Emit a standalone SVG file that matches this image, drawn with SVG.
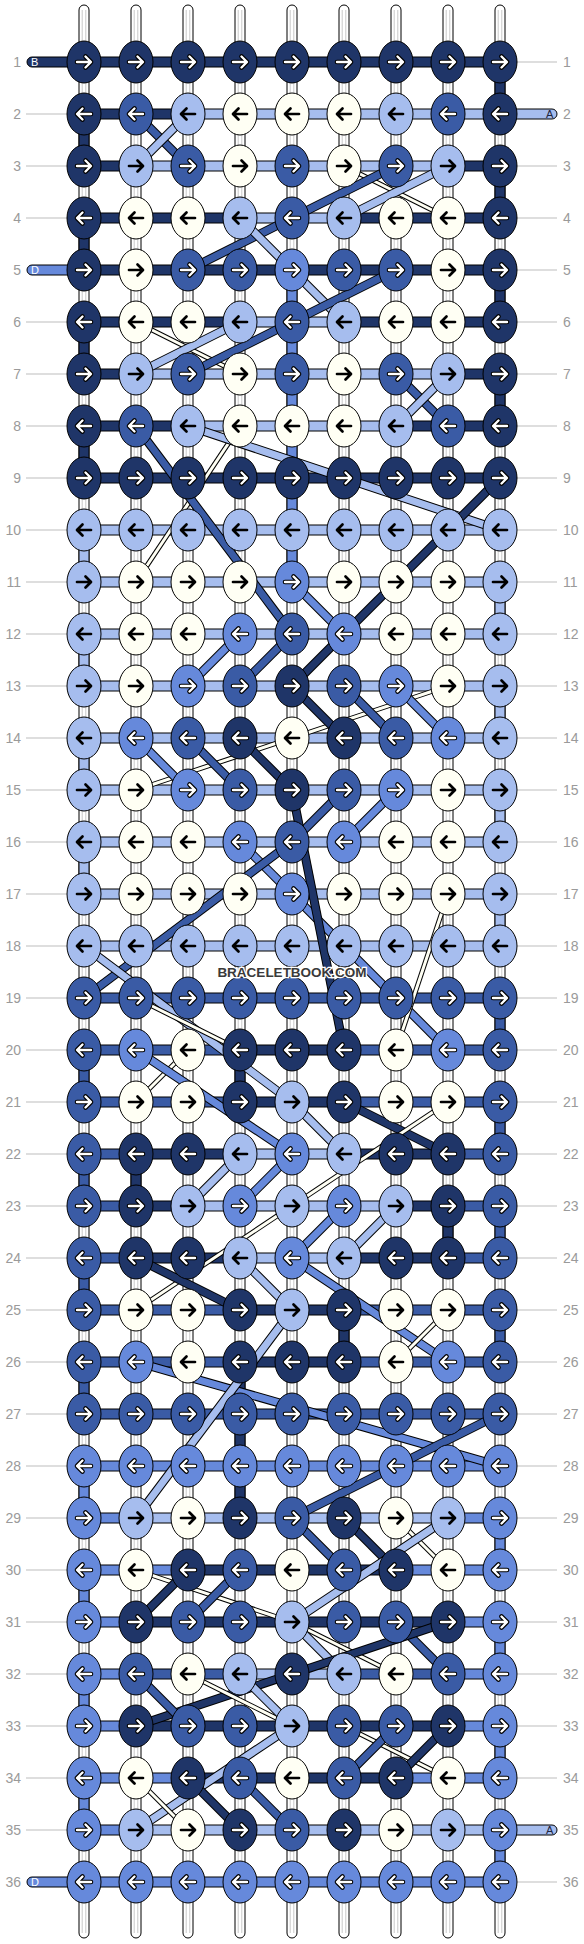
<svg xmlns="http://www.w3.org/2000/svg" xmlns:xlink="http://www.w3.org/1999/xlink" width="584" height="1944" viewBox="0 0 584 1944">
<style>
.lbl{font-family:"Liberation Sans",Arial,sans-serif;font-size:14px;fill:#9a9a9a}
.gl{stroke:#bdbdbd;stroke-width:1;fill:none}
.st{fill:#fff;stroke:#000;stroke-width:1}
.sg{stroke:#c8c8c8;stroke-width:1;fill:none}
.b{stroke:#000;stroke-width:1}
.N{fill:#1f3568}.M{fill:#3a5ba5}.C{fill:#6689db}.L{fill:#a6bdee}.W{fill:#fffff4}
.o{stroke:#000;stroke-width:9;fill:none}
.ow{stroke:#000;stroke-width:5;fill:none}
.fN{stroke:#1f3568;stroke-width:7;fill:none}
.fM{stroke:#3a5ba5;stroke-width:7;fill:none}
.fC{stroke:#6689db;stroke-width:7;fill:none}
.fL{stroke:#a6bdee;stroke-width:7;fill:none}
.fW{stroke:#fffff4;stroke-width:3;fill:none}
.sl{font-family:"Liberation Sans",Arial,sans-serif;font-size:11px}
</style>
<defs>
<ellipse id="e" rx="17" ry="21" stroke="#000" stroke-width="1"/>
<path id="a" d="M-7,0H6.5M1.5,-5.5L7,0L1.5,5.5" fill="none" stroke-linecap="round" stroke-linejoin="round"/>
<g id="Rw"><use href="#a" stroke="#000" stroke-width="4.6"/><use href="#a" stroke="#fff" stroke-width="2.4"/></g>
<g id="Lw"><use href="#Rw" transform="scale(-1,1)"/></g>
<g id="Rb"><use href="#a" stroke="#000" stroke-width="2.7"/></g>
<g id="Lb"><use href="#Rb" transform="scale(-1,1)"/></g>
<g id="NR"><use href="#e" fill="#1f3568"/><use href="#Rw"/></g>
<g id="NL"><use href="#e" fill="#1f3568"/><use href="#Lw"/></g>
<g id="MR"><use href="#e" fill="#3a5ba5"/><use href="#Rw"/></g>
<g id="ML"><use href="#e" fill="#3a5ba5"/><use href="#Lw"/></g>
<g id="CR"><use href="#e" fill="#6689db"/><use href="#Rw"/></g>
<g id="CL"><use href="#e" fill="#6689db"/><use href="#Lw"/></g>
<g id="LR"><use href="#e" fill="#a6bdee"/><use href="#Rb"/></g>
<g id="LL"><use href="#e" fill="#a6bdee"/><use href="#Lb"/></g>
<g id="WR"><use href="#e" fill="#fffff4"/><use href="#Rb"/></g>
<g id="WL"><use href="#e" fill="#fffff4"/><use href="#Lb"/></g>
</defs>
<rect width="584" height="1944" fill="#fff"/>
<g id="labels">
<path class="gl" d="M26,114H70M26,166H70M26,218H70M26,322H70M26,374H70M26,426H70M26,478H70M26,530H70M26,582H70M26,634H70M26,686H70M26,738H70M26,790H70M26,842H70M26,894H70M26,946H70M26,998H70M26,1050H70M26,1102H70M26,1154H70M26,1206H70M26,1258H70M26,1310H70M26,1362H70M26,1414H70M26,1466H70M26,1518H70M26,1570H70M26,1622H70M26,1674H70M26,1726H70M26,1778H70M26,1830H70"/>
<path class="gl" d="M514,62H557M514,166H557M514,218H557M514,270H557M514,322H557M514,374H557M514,426H557M514,478H557M514,530H557M514,582H557M514,634H557M514,686H557M514,738H557M514,790H557M514,842H557M514,894H557M514,946H557M514,998H557M514,1050H557M514,1102H557M514,1154H557M514,1206H557M514,1258H557M514,1310H557M514,1362H557M514,1414H557M514,1466H557M514,1518H557M514,1570H557M514,1622H557M514,1674H557M514,1726H557M514,1778H557M514,1882H557"/>
<g class="lbl" text-anchor="end">
<text x="21" y="67">1</text><text x="21" y="119">2</text><text x="21" y="171">3</text><text x="21" y="223">4</text><text x="21" y="275">5</text><text x="21" y="327">6</text><text x="21" y="379">7</text><text x="21" y="431">8</text><text x="21" y="483">9</text><text x="21" y="535">10</text><text x="21" y="587">11</text><text x="21" y="639">12</text><text x="21" y="691">13</text><text x="21" y="743">14</text><text x="21" y="795">15</text><text x="21" y="847">16</text><text x="21" y="899">17</text><text x="21" y="951">18</text><text x="21" y="1003">19</text><text x="21" y="1055">20</text><text x="21" y="1107">21</text><text x="21" y="1159">22</text><text x="21" y="1211">23</text><text x="21" y="1263">24</text><text x="21" y="1315">25</text><text x="21" y="1367">26</text><text x="21" y="1419">27</text><text x="21" y="1471">28</text><text x="21" y="1523">29</text><text x="21" y="1575">30</text><text x="21" y="1627">31</text><text x="21" y="1679">32</text><text x="21" y="1731">33</text><text x="21" y="1783">34</text><text x="21" y="1835">35</text><text x="21" y="1887">36</text>
</g>
<g class="lbl">
<text x="563" y="67">1</text><text x="563" y="119">2</text><text x="563" y="171">3</text><text x="563" y="223">4</text><text x="563" y="275">5</text><text x="563" y="327">6</text><text x="563" y="379">7</text><text x="563" y="431">8</text><text x="563" y="483">9</text><text x="563" y="535">10</text><text x="563" y="587">11</text><text x="563" y="639">12</text><text x="563" y="691">13</text><text x="563" y="743">14</text><text x="563" y="795">15</text><text x="563" y="847">16</text><text x="563" y="899">17</text><text x="563" y="951">18</text><text x="563" y="1003">19</text><text x="563" y="1055">20</text><text x="563" y="1107">21</text><text x="563" y="1159">22</text><text x="563" y="1211">23</text><text x="563" y="1263">24</text><text x="563" y="1315">25</text><text x="563" y="1367">26</text><text x="563" y="1419">27</text><text x="563" y="1471">28</text><text x="563" y="1523">29</text><text x="563" y="1575">30</text><text x="563" y="1627">31</text><text x="563" y="1679">32</text><text x="563" y="1731">33</text><text x="563" y="1783">34</text><text x="563" y="1835">35</text><text x="563" y="1887">36</text>
</g>
</g>
<g id="connectors">
<g id="strands">
<rect class="st" x="79" y="5" width="10" height="1933" rx="5"/><rect class="st" x="131" y="5" width="10" height="1933" rx="5"/><rect class="st" x="183" y="5" width="10" height="1933" rx="5"/><rect class="st" x="235" y="5" width="10" height="1933" rx="5"/><rect class="st" x="287" y="5" width="10" height="1933" rx="5"/><rect class="st" x="339" y="5" width="10" height="1933" rx="5"/><rect class="st" x="391" y="5" width="10" height="1933" rx="5"/><rect class="st" x="443" y="5" width="10" height="1933" rx="5"/><rect class="st" x="495" y="5" width="10" height="1933" rx="5"/>
<path class="sg" d="M82.2,10V1933M85.8,10V1933M134.2,10V1933M137.8,10V1933M186.2,10V1933M189.8,10V1933M238.2,10V1933M241.8,10V1933M290.2,10V1933M293.8,10V1933M342.2,10V1933M345.8,10V1933M394.2,10V1933M397.8,10V1933M446.2,10V1933M449.8,10V1933M498.2,10V1933M501.8,10V1933"/>
</g>
<g id="vertical">
<rect class="b N" x="79" y="130" width="10" height="20"/><rect class="b N" x="79" y="234" width="10" height="20"/><rect class="b N" x="79" y="338" width="10" height="20"/><rect class="b N" x="79" y="442" width="10" height="20"/>
<rect class="b L" x="79" y="546" width="10" height="20"/><rect class="b L" x="79" y="650" width="10" height="20"/><rect class="b L" x="79" y="754" width="10" height="20"/><rect class="b L" x="79" y="858" width="10" height="20"/>
<rect class="b M" x="79" y="1066" width="10" height="20"/><rect class="b M" x="79" y="1170" width="10" height="20"/><rect class="b M" x="79" y="1274" width="10" height="20"/><rect class="b M" x="79" y="1378" width="10" height="20"/>
<rect class="b C" x="79" y="1482" width="10" height="20"/><rect class="b C" x="79" y="1586" width="10" height="20"/><rect class="b C" x="79" y="1690" width="10" height="20"/><rect class="b C" x="79" y="1794" width="10" height="20"/>
<rect class="b N" x="495" y="78" width="10" height="20"/><rect class="b N" x="495" y="182" width="10" height="20"/><rect class="b N" x="495" y="286" width="10" height="20"/><rect class="b N" x="495" y="390" width="10" height="20"/>
<rect class="b L" x="495" y="598" width="10" height="20"/><rect class="b L" x="495" y="702" width="10" height="20"/><rect class="b L" x="495" y="806" width="10" height="20"/><rect class="b L" x="495" y="910" width="10" height="20"/>
<rect class="b M" x="495" y="1014" width="10" height="20"/><rect class="b M" x="495" y="1118" width="10" height="20"/><rect class="b M" x="495" y="1222" width="10" height="20"/><rect class="b M" x="495" y="1326" width="10" height="20"/>
<rect class="b C" x="495" y="1534" width="10" height="20"/><rect class="b C" x="495" y="1638" width="10" height="20"/><rect class="b C" x="495" y="1742" width="10" height="20"/><rect class="b C" x="495" y="1846" width="10" height="20"/>
<rect class="b C" x="287" y="286" width="10" height="280"/>
<rect class="b N" x="235" y="1066" width="10" height="20"/><rect class="b N" x="235" y="1378" width="10" height="124"/>
<rect class="b N" x="131" y="1170" width="10" height="20"/><rect class="b N" x="443" y="1222" width="10" height="20"/><rect class="b N" x="339" y="1326" width="10" height="20"/>
</g>
<g id="rows">
<path class="b N" d="M84,57H32a5,5 0 0 0 0,10H84Z"/>
<path class="b C" d="M84,265H32a5,5 0 0 0 0,10H84Z"/>
<path class="b C" d="M84,1877H32a5,5 0 0 0 0,10H84Z"/>
<path class="b L" d="M500,109H552a5,5 0 0 1 0,10H500Z"/>
<path class="b L" d="M500,1825H552a5,5 0 0 1 0,10H500Z"/>
<rect class="b N" x="84" y="57" width="416" height="10"/>
<rect class="b N" x="84" y="109" width="104" height="10"/><rect class="b L" x="188" y="109" width="312" height="10"/>
<rect class="b N" x="84" y="161" width="52" height="10"/><rect class="b L" x="136" y="161" width="312" height="10"/><rect class="b N" x="448" y="161" width="52" height="10"/>
<rect class="b N" x="84" y="213" width="156" height="10"/><rect class="b L" x="240" y="213" width="104" height="10"/><rect class="b N" x="344" y="213" width="156" height="10"/>
<rect class="b N" x="84" y="265" width="416" height="10"/>
<rect class="b N" x="84" y="317" width="156" height="10"/><rect class="b L" x="240" y="317" width="104" height="10"/><rect class="b N" x="344" y="317" width="156" height="10"/>
<rect class="b N" x="84" y="369" width="52" height="10"/><rect class="b L" x="136" y="369" width="312" height="10"/><rect class="b N" x="448" y="369" width="52" height="10"/>
<rect class="b N" x="84" y="421" width="104" height="10"/><rect class="b L" x="188" y="421" width="208" height="10"/><rect class="b N" x="396" y="421" width="104" height="10"/>
<rect class="b N" x="84" y="473" width="416" height="10"/>
<rect class="b L" x="84" y="525" width="416" height="10"/><rect class="b L" x="84" y="577" width="416" height="10"/><rect class="b L" x="84" y="629" width="416" height="10"/><rect class="b L" x="84" y="681" width="416" height="10"/><rect class="b L" x="84" y="733" width="416" height="10"/><rect class="b L" x="84" y="785" width="416" height="10"/><rect class="b L" x="84" y="837" width="416" height="10"/><rect class="b L" x="84" y="889" width="416" height="10"/><rect class="b L" x="84" y="941" width="416" height="10"/>
<rect class="b M" x="84" y="993" width="416" height="10"/>
<rect class="b M" x="84" y="1045" width="156" height="10"/><rect class="b N" x="240" y="1045" width="104" height="10"/><rect class="b M" x="344" y="1045" width="156" height="10"/>
<rect class="b M" x="84" y="1097" width="156" height="10"/><rect class="b N" x="240" y="1097" width="104" height="10"/><rect class="b M" x="344" y="1097" width="156" height="10"/>
<rect class="b M" x="84" y="1149" width="52" height="10"/><rect class="b N" x="136" y="1149" width="104" height="10"/><rect class="b L" x="240" y="1149" width="104" height="10"/><rect class="b N" x="344" y="1149" width="104" height="10"/><rect class="b M" x="448" y="1149" width="52" height="10"/>
<rect class="b M" x="84" y="1201" width="52" height="10"/><rect class="b N" x="136" y="1201" width="52" height="10"/><rect class="b L" x="188" y="1201" width="208" height="10"/><rect class="b N" x="396" y="1201" width="52" height="10"/><rect class="b M" x="448" y="1201" width="52" height="10"/>
<rect class="b M" x="84" y="1253" width="52" height="10"/><rect class="b N" x="136" y="1253" width="104" height="10"/><rect class="b L" x="240" y="1253" width="104" height="10"/><rect class="b N" x="344" y="1253" width="104" height="10"/><rect class="b M" x="448" y="1253" width="52" height="10"/>
<rect class="b M" x="84" y="1305" width="156" height="10"/><rect class="b N" x="240" y="1305" width="104" height="10"/><rect class="b M" x="344" y="1305" width="156" height="10"/>
<rect class="b M" x="84" y="1357" width="156" height="10"/><rect class="b N" x="240" y="1357" width="104" height="10"/><rect class="b M" x="344" y="1357" width="156" height="10"/>
<rect class="b M" x="84" y="1409" width="416" height="10"/>
<rect class="b C" x="84" y="1461" width="416" height="10"/>
<rect class="b C" x="84" y="1513" width="52" height="10"/><rect class="b L" x="136" y="1513" width="312" height="10"/><rect class="b C" x="448" y="1513" width="52" height="10"/>
<rect class="b C" x="84" y="1565" width="104" height="10"/><rect class="b N" x="188" y="1565" width="208" height="10"/><rect class="b C" x="396" y="1565" width="104" height="10"/>
<rect class="b C" x="84" y="1617" width="52" height="10"/><rect class="b N" x="136" y="1617" width="312" height="10"/><rect class="b C" x="448" y="1617" width="52" height="10"/>
<rect class="b C" x="84" y="1669" width="52" height="10"/><rect class="b M" x="136" y="1669" width="104" height="10"/><rect class="b L" x="240" y="1669" width="104" height="10"/><rect class="b M" x="344" y="1669" width="104" height="10"/><rect class="b C" x="448" y="1669" width="52" height="10"/>
<rect class="b C" x="84" y="1721" width="52" height="10"/><rect class="b N" x="136" y="1721" width="312" height="10"/><rect class="b C" x="448" y="1721" width="52" height="10"/>
<rect class="b C" x="84" y="1773" width="104" height="10"/><rect class="b N" x="188" y="1773" width="208" height="10"/><rect class="b C" x="396" y="1773" width="104" height="10"/>
<rect class="b C" x="84" y="1825" width="52" height="10"/><rect class="b L" x="136" y="1825" width="364" height="10"/>
<rect class="b C" x="84" y="1877" width="416" height="10"/>
<text class="sl" x="31" y="66" fill="#fff">B</text>
<text class="sl" x="31" y="274" fill="#fff">D</text>
<text class="sl" x="31" y="1886" fill="#fff">D</text>
<text class="sl" x="546" y="118" fill="#1f2540">A</text>
<text class="sl" x="546" y="1834" fill="#1f2540">A</text>
</g>
<g id="diagonals">
<path class="o" d="M136,114L188,166"/><path class="fM" d="M136,114L188,166"/>
<path class="o" d="M188,114L136,166"/><path class="fL" d="M188,114L136,166"/>
<path class="ow" d="M344,166L448,218"/><path class="fW" d="M344,166L448,218"/>
<path class="o" d="M396,166L188,270"/><path class="fM" d="M396,166L188,270"/>
<path class="o" d="M448,166L344,218"/><path class="fL" d="M448,166L344,218"/>
<path class="o" d="M240,218L292,270"/><path class="fL" d="M240,218L292,270"/>
<path class="o" d="M292,270L344,322"/><path class="fL" d="M292,270L344,322"/>
<path class="o" d="M396,270L292,322"/><path class="fM" d="M396,270L292,322"/>
<path class="ow" d="M136,322L240,374"/><path class="fW" d="M136,322L240,374"/>
<path class="o" d="M240,322L136,374"/><path class="fL" d="M240,322L136,374"/>
<path class="o" d="M292,322L188,374"/><path class="fM" d="M292,322L188,374"/>
<path class="o" d="M396,374L448,426"/><path class="fM" d="M396,374L448,426"/>
<path class="o" d="M448,374L396,426"/><path class="fL" d="M448,374L396,426"/>
<path class="ow" d="M240,426L136,582"/><path class="fW" d="M240,426L136,582"/>
<path class="o" d="M136,426L292,634"/><path class="fM" d="M136,426L292,634"/>
<path class="o" d="M188,426L500,530"/><path class="fL" d="M188,426L500,530"/>
<path class="o" d="M500,478L292,686"/><path class="fN" d="M500,478L292,686"/>
<path class="o" d="M292,582L344,634"/><path class="fC" d="M292,582L344,634"/>
<path class="o" d="M240,634L188,686"/><path class="fC" d="M240,634L188,686"/>
<path class="o" d="M292,634L240,686"/><path class="fM" d="M292,634L240,686"/>
<path class="ow" d="M448,686L136,790"/><path class="fW" d="M448,686L136,790"/>
<path class="o" d="M292,686L344,738"/><path class="fN" d="M292,686L344,738"/>
<path class="o" d="M344,686L396,738"/><path class="fM" d="M344,686L396,738"/>
<path class="o" d="M396,686L448,738"/><path class="fC" d="M396,686L448,738"/>
<path class="o" d="M136,738L188,790"/><path class="fC" d="M136,738L188,790"/>
<path class="o" d="M188,738L240,790"/><path class="fM" d="M188,738L240,790"/>
<path class="o" d="M240,738L292,790"/><path class="fN" d="M240,738L292,790"/>
<path class="o" d="M344,790L292,842"/><path class="fM" d="M344,790L292,842"/>
<path class="o" d="M396,790L344,842"/><path class="fC" d="M396,790L344,842"/>
<path class="o" d="M240,842L292,894"/><path class="fC" d="M240,842L292,894"/>
<path class="o" d="M292,842L84,998"/><path class="fM" d="M292,842L84,998"/>
<path class="o" d="M292,894L448,1050"/><path class="fC" d="M292,894L448,1050"/>
<path class="o" d="M292,790L344,1050"/><path class="fN" d="M292,790L344,1050"/>
<path class="ow" d="M448,894L396,1050"/><path class="fW" d="M448,894L396,1050"/>
<path class="o" d="M84,946L292,1102"/><path class="fL" d="M84,946L292,1102"/>
<path class="ow" d="M136,998L240,1050"/><path class="fW" d="M136,998L240,1050"/>
<path class="ow" d="M188,1050L136,1102"/><path class="fW" d="M188,1050L136,1102"/>
<path class="o" d="M136,1050L292,1154"/><path class="fC" d="M136,1050L292,1154"/>
<path class="o" d="M292,1102L344,1154"/><path class="fL" d="M292,1102L344,1154"/>
<path class="o" d="M344,1102L448,1154"/><path class="fN" d="M344,1102L448,1154"/>
<path class="ow" d="M448,1102L136,1310"/><path class="fW" d="M448,1102L136,1310"/>
<path class="o" d="M240,1154L188,1206"/><path class="fL" d="M240,1154L188,1206"/>
<path class="o" d="M292,1154L240,1206"/><path class="fC" d="M292,1154L240,1206"/>
<path class="o" d="M344,1206L292,1258"/><path class="fC" d="M344,1206L292,1258"/>
<path class="o" d="M396,1206L344,1258"/><path class="fL" d="M396,1206L344,1258"/>
<path class="o" d="M136,1258L240,1310"/><path class="fN" d="M136,1258L240,1310"/>
<path class="o" d="M240,1258L292,1310"/><path class="fL" d="M240,1258L292,1310"/>
<path class="o" d="M292,1258L448,1362"/><path class="fC" d="M292,1258L448,1362"/>
<path class="ow" d="M448,1310L396,1362"/><path class="fW" d="M448,1310L396,1362"/>
<path class="o" d="M136,1362L500,1466"/><path class="fC" d="M136,1362L500,1466"/>
<path class="o" d="M292,1310L136,1518"/><path class="fL" d="M292,1310L136,1518"/>
<path class="o" d="M500,1414L292,1518"/><path class="fM" d="M500,1414L292,1518"/>
<path class="o" d="M292,1518L344,1570"/><path class="fM" d="M292,1518L344,1570"/>
<path class="o" d="M344,1518L396,1570"/><path class="fN" d="M344,1518L396,1570"/>
<path class="ow" d="M396,1518L448,1570"/><path class="fW" d="M396,1518L448,1570"/>
<path class="o" d="M448,1518L292,1622"/><path class="fL" d="M448,1518L292,1622"/>
<path class="ow" d="M136,1570L292,1622"/><path class="fW" d="M136,1570L292,1622"/>
<path class="o" d="M188,1570L136,1622"/><path class="fN" d="M188,1570L136,1622"/>
<path class="o" d="M240,1570L188,1622"/><path class="fM" d="M240,1570L188,1622"/>
<path class="ow" d="M292,1622L396,1674"/><path class="fW" d="M292,1622L396,1674"/>
<path class="o" d="M292,1622L344,1674"/><path class="fL" d="M292,1622L344,1674"/>
<path class="o" d="M396,1622L448,1674"/><path class="fM" d="M396,1622L448,1674"/>
<path class="o" d="M448,1622L136,1726"/><path class="fN" d="M448,1622L136,1726"/>
<path class="ow" d="M188,1674L292,1726"/><path class="fW" d="M188,1674L292,1726"/>
<path class="o" d="M136,1674L188,1726"/><path class="fM" d="M136,1674L188,1726"/>
<path class="o" d="M240,1674L292,1726"/><path class="fL" d="M240,1674L292,1726"/>
<path class="ow" d="M344,1726L448,1778"/><path class="fW" d="M344,1726L448,1778"/>
<path class="o" d="M396,1726L344,1778"/><path class="fM" d="M396,1726L344,1778"/>
<path class="o" d="M448,1726L396,1778"/><path class="fN" d="M448,1726L396,1778"/>
<path class="o" d="M292,1726L136,1830"/><path class="fL" d="M292,1726L136,1830"/>
<path class="ow" d="M136,1778L188,1830"/><path class="fW" d="M136,1778L188,1830"/>
<path class="o" d="M188,1778L240,1830"/><path class="fN" d="M188,1778L240,1830"/>
<path class="o" d="M240,1778L292,1830"/><path class="fM" d="M240,1778L292,1830"/>
</g>
</g>
<g id="knots">
<g id="n1-1"><use href="#NR" x="84" y="62"/></g><g id="n1-2"><use href="#NR" x="136" y="62"/></g><g id="n1-3"><use href="#NR" x="188" y="62"/></g><g id="n1-4"><use href="#NR" x="240" y="62"/></g><g id="n1-5"><use href="#NR" x="292" y="62"/></g><g id="n1-6"><use href="#NR" x="344" y="62"/></g><g id="n1-7"><use href="#NR" x="396" y="62"/></g><g id="n1-8"><use href="#NR" x="448" y="62"/></g><g id="n1-9"><use href="#NR" x="500" y="62"/></g>
<g id="n2-1"><use href="#NL" x="84" y="114"/></g><g id="n2-2"><use href="#ML" x="136" y="114"/></g><g id="n2-3"><use href="#LL" x="188" y="114"/></g><g id="n2-4"><use href="#WL" x="240" y="114"/></g><g id="n2-5"><use href="#WL" x="292" y="114"/></g><g id="n2-6"><use href="#WL" x="344" y="114"/></g><g id="n2-7"><use href="#LL" x="396" y="114"/></g><g id="n2-8"><use href="#ML" x="448" y="114"/></g><g id="n2-9"><use href="#NL" x="500" y="114"/></g>
<g id="n3-1"><use href="#NR" x="84" y="166"/></g><g id="n3-2"><use href="#LR" x="136" y="166"/></g><g id="n3-3"><use href="#MR" x="188" y="166"/></g><g id="n3-4"><use href="#WR" x="240" y="166"/></g><g id="n3-5"><use href="#MR" x="292" y="166"/></g><g id="n3-6"><use href="#WR" x="344" y="166"/></g><g id="n3-7"><use href="#MR" x="396" y="166"/></g><g id="n3-8"><use href="#LR" x="448" y="166"/></g><g id="n3-9"><use href="#NR" x="500" y="166"/></g>
<g id="n4-1"><use href="#NL" x="84" y="218"/></g><g id="n4-2"><use href="#WL" x="136" y="218"/></g><g id="n4-3"><use href="#WL" x="188" y="218"/></g><g id="n4-4"><use href="#LL" x="240" y="218"/></g><g id="n4-5"><use href="#ML" x="292" y="218"/></g><g id="n4-6"><use href="#LL" x="344" y="218"/></g><g id="n4-7"><use href="#WL" x="396" y="218"/></g><g id="n4-8"><use href="#WL" x="448" y="218"/></g><g id="n4-9"><use href="#NL" x="500" y="218"/></g>
<g id="n5-1"><use href="#NR" x="84" y="270"/></g><g id="n5-2"><use href="#WR" x="136" y="270"/></g><g id="n5-3"><use href="#MR" x="188" y="270"/></g><g id="n5-4"><use href="#MR" x="240" y="270"/></g><g id="n5-5"><use href="#CR" x="292" y="270"/></g><g id="n5-6"><use href="#MR" x="344" y="270"/></g><g id="n5-7"><use href="#MR" x="396" y="270"/></g><g id="n5-8"><use href="#WR" x="448" y="270"/></g><g id="n5-9"><use href="#NR" x="500" y="270"/></g>
<g id="n6-1"><use href="#NL" x="84" y="322"/></g><g id="n6-2"><use href="#WL" x="136" y="322"/></g><g id="n6-3"><use href="#WL" x="188" y="322"/></g><g id="n6-4"><use href="#LL" x="240" y="322"/></g><g id="n6-5"><use href="#ML" x="292" y="322"/></g><g id="n6-6"><use href="#LL" x="344" y="322"/></g><g id="n6-7"><use href="#WL" x="396" y="322"/></g><g id="n6-8"><use href="#WL" x="448" y="322"/></g><g id="n6-9"><use href="#NL" x="500" y="322"/></g>
<g id="n7-1"><use href="#NR" x="84" y="374"/></g><g id="n7-2"><use href="#LR" x="136" y="374"/></g><g id="n7-3"><use href="#MR" x="188" y="374"/></g><g id="n7-4"><use href="#WR" x="240" y="374"/></g><g id="n7-5"><use href="#MR" x="292" y="374"/></g><g id="n7-6"><use href="#WR" x="344" y="374"/></g><g id="n7-7"><use href="#MR" x="396" y="374"/></g><g id="n7-8"><use href="#LR" x="448" y="374"/></g><g id="n7-9"><use href="#NR" x="500" y="374"/></g>
<g id="n8-1"><use href="#NL" x="84" y="426"/></g><g id="n8-2"><use href="#ML" x="136" y="426"/></g><g id="n8-3"><use href="#LL" x="188" y="426"/></g><g id="n8-4"><use href="#WL" x="240" y="426"/></g><g id="n8-5"><use href="#WL" x="292" y="426"/></g><g id="n8-6"><use href="#WL" x="344" y="426"/></g><g id="n8-7"><use href="#LL" x="396" y="426"/></g><g id="n8-8"><use href="#ML" x="448" y="426"/></g><g id="n8-9"><use href="#NL" x="500" y="426"/></g>
<g id="n9-1"><use href="#NR" x="84" y="478"/></g><g id="n9-2"><use href="#NR" x="136" y="478"/></g><g id="n9-3"><use href="#NR" x="188" y="478"/></g><g id="n9-4"><use href="#NR" x="240" y="478"/></g><g id="n9-5"><use href="#NR" x="292" y="478"/></g><g id="n9-6"><use href="#NR" x="344" y="478"/></g><g id="n9-7"><use href="#NR" x="396" y="478"/></g><g id="n9-8"><use href="#NR" x="448" y="478"/></g><g id="n9-9"><use href="#NR" x="500" y="478"/></g>
<g id="n10-1"><use href="#LL" x="84" y="530"/></g><g id="n10-2"><use href="#LL" x="136" y="530"/></g><g id="n10-3"><use href="#LL" x="188" y="530"/></g><g id="n10-4"><use href="#LL" x="240" y="530"/></g><g id="n10-5"><use href="#LL" x="292" y="530"/></g><g id="n10-6"><use href="#LL" x="344" y="530"/></g><g id="n10-7"><use href="#LL" x="396" y="530"/></g><g id="n10-8"><use href="#LL" x="448" y="530"/></g><g id="n10-9"><use href="#LL" x="500" y="530"/></g>
<g id="n11-1"><use href="#LR" x="84" y="582"/></g><g id="n11-2"><use href="#WR" x="136" y="582"/></g><g id="n11-3"><use href="#WR" x="188" y="582"/></g><g id="n11-4"><use href="#WR" x="240" y="582"/></g><g id="n11-5"><use href="#CR" x="292" y="582"/></g><g id="n11-6"><use href="#WR" x="344" y="582"/></g><g id="n11-7"><use href="#WR" x="396" y="582"/></g><g id="n11-8"><use href="#WR" x="448" y="582"/></g><g id="n11-9"><use href="#LR" x="500" y="582"/></g>
<g id="n12-1"><use href="#LL" x="84" y="634"/></g><g id="n12-2"><use href="#WL" x="136" y="634"/></g><g id="n12-3"><use href="#WL" x="188" y="634"/></g><g id="n12-4"><use href="#CL" x="240" y="634"/></g><g id="n12-5"><use href="#ML" x="292" y="634"/></g><g id="n12-6"><use href="#CL" x="344" y="634"/></g><g id="n12-7"><use href="#WL" x="396" y="634"/></g><g id="n12-8"><use href="#WL" x="448" y="634"/></g><g id="n12-9"><use href="#LL" x="500" y="634"/></g>
<g id="n13-1"><use href="#LR" x="84" y="686"/></g><g id="n13-2"><use href="#WR" x="136" y="686"/></g><g id="n13-3"><use href="#CR" x="188" y="686"/></g><g id="n13-4"><use href="#MR" x="240" y="686"/></g><g id="n13-5"><use href="#NR" x="292" y="686"/></g><g id="n13-6"><use href="#MR" x="344" y="686"/></g><g id="n13-7"><use href="#CR" x="396" y="686"/></g><g id="n13-8"><use href="#WR" x="448" y="686"/></g><g id="n13-9"><use href="#LR" x="500" y="686"/></g>
<g id="n14-1"><use href="#LL" x="84" y="738"/></g><g id="n14-2"><use href="#CL" x="136" y="738"/></g><g id="n14-3"><use href="#ML" x="188" y="738"/></g><g id="n14-4"><use href="#NL" x="240" y="738"/></g><g id="n14-5"><use href="#WL" x="292" y="738"/></g><g id="n14-6"><use href="#NL" x="344" y="738"/></g><g id="n14-7"><use href="#ML" x="396" y="738"/></g><g id="n14-8"><use href="#CL" x="448" y="738"/></g><g id="n14-9"><use href="#LL" x="500" y="738"/></g>
<g id="n15-1"><use href="#LR" x="84" y="790"/></g><g id="n15-2"><use href="#WR" x="136" y="790"/></g><g id="n15-3"><use href="#CR" x="188" y="790"/></g><g id="n15-4"><use href="#MR" x="240" y="790"/></g><g id="n15-5"><use href="#NR" x="292" y="790"/></g><g id="n15-6"><use href="#MR" x="344" y="790"/></g><g id="n15-7"><use href="#CR" x="396" y="790"/></g><g id="n15-8"><use href="#WR" x="448" y="790"/></g><g id="n15-9"><use href="#LR" x="500" y="790"/></g>
<g id="n16-1"><use href="#LL" x="84" y="842"/></g><g id="n16-2"><use href="#WL" x="136" y="842"/></g><g id="n16-3"><use href="#WL" x="188" y="842"/></g><g id="n16-4"><use href="#CL" x="240" y="842"/></g><g id="n16-5"><use href="#ML" x="292" y="842"/></g><g id="n16-6"><use href="#CL" x="344" y="842"/></g><g id="n16-7"><use href="#WL" x="396" y="842"/></g><g id="n16-8"><use href="#WL" x="448" y="842"/></g><g id="n16-9"><use href="#LL" x="500" y="842"/></g>
<g id="n17-1"><use href="#LR" x="84" y="894"/></g><g id="n17-2"><use href="#WR" x="136" y="894"/></g><g id="n17-3"><use href="#WR" x="188" y="894"/></g><g id="n17-4"><use href="#WR" x="240" y="894"/></g><g id="n17-5"><use href="#CR" x="292" y="894"/></g><g id="n17-6"><use href="#WR" x="344" y="894"/></g><g id="n17-7"><use href="#WR" x="396" y="894"/></g><g id="n17-8"><use href="#WR" x="448" y="894"/></g><g id="n17-9"><use href="#LR" x="500" y="894"/></g>
<g id="n18-1"><use href="#LL" x="84" y="946"/></g><g id="n18-2"><use href="#LL" x="136" y="946"/></g><g id="n18-3"><use href="#LL" x="188" y="946"/></g><g id="n18-4"><use href="#LL" x="240" y="946"/></g><g id="n18-5"><use href="#LL" x="292" y="946"/></g><g id="n18-6"><use href="#LL" x="344" y="946"/></g><g id="n18-7"><use href="#LL" x="396" y="946"/></g><g id="n18-8"><use href="#LL" x="448" y="946"/></g><g id="n18-9"><use href="#LL" x="500" y="946"/></g>
<g id="n19-1"><use href="#MR" x="84" y="998"/></g><g id="n19-2"><use href="#MR" x="136" y="998"/></g><g id="n19-3"><use href="#MR" x="188" y="998"/></g><g id="n19-4"><use href="#MR" x="240" y="998"/></g><g id="n19-5"><use href="#MR" x="292" y="998"/></g><g id="n19-6"><use href="#MR" x="344" y="998"/></g><g id="n19-7"><use href="#MR" x="396" y="998"/></g><g id="n19-8"><use href="#MR" x="448" y="998"/></g><g id="n19-9"><use href="#MR" x="500" y="998"/></g>
<g id="n20-1"><use href="#ML" x="84" y="1050"/></g><g id="n20-2"><use href="#CL" x="136" y="1050"/></g><g id="n20-3"><use href="#WL" x="188" y="1050"/></g><g id="n20-4"><use href="#NL" x="240" y="1050"/></g><g id="n20-5"><use href="#NL" x="292" y="1050"/></g><g id="n20-6"><use href="#NL" x="344" y="1050"/></g><g id="n20-7"><use href="#WL" x="396" y="1050"/></g><g id="n20-8"><use href="#CL" x="448" y="1050"/></g><g id="n20-9"><use href="#ML" x="500" y="1050"/></g>
<g id="n21-1"><use href="#MR" x="84" y="1102"/></g><g id="n21-2"><use href="#WR" x="136" y="1102"/></g><g id="n21-3"><use href="#WR" x="188" y="1102"/></g><g id="n21-4"><use href="#NR" x="240" y="1102"/></g><g id="n21-5"><use href="#LR" x="292" y="1102"/></g><g id="n21-6"><use href="#NR" x="344" y="1102"/></g><g id="n21-7"><use href="#WR" x="396" y="1102"/></g><g id="n21-8"><use href="#WR" x="448" y="1102"/></g><g id="n21-9"><use href="#MR" x="500" y="1102"/></g>
<g id="n22-1"><use href="#ML" x="84" y="1154"/></g><g id="n22-2"><use href="#NL" x="136" y="1154"/></g><g id="n22-3"><use href="#NL" x="188" y="1154"/></g><g id="n22-4"><use href="#LL" x="240" y="1154"/></g><g id="n22-5"><use href="#CL" x="292" y="1154"/></g><g id="n22-6"><use href="#LL" x="344" y="1154"/></g><g id="n22-7"><use href="#NL" x="396" y="1154"/></g><g id="n22-8"><use href="#NL" x="448" y="1154"/></g><g id="n22-9"><use href="#ML" x="500" y="1154"/></g>
<g id="n23-1"><use href="#MR" x="84" y="1206"/></g><g id="n23-2"><use href="#NR" x="136" y="1206"/></g><g id="n23-3"><use href="#LR" x="188" y="1206"/></g><g id="n23-4"><use href="#CR" x="240" y="1206"/></g><g id="n23-5"><use href="#LR" x="292" y="1206"/></g><g id="n23-6"><use href="#CR" x="344" y="1206"/></g><g id="n23-7"><use href="#LR" x="396" y="1206"/></g><g id="n23-8"><use href="#NR" x="448" y="1206"/></g><g id="n23-9"><use href="#MR" x="500" y="1206"/></g>
<g id="n24-1"><use href="#ML" x="84" y="1258"/></g><g id="n24-2"><use href="#NL" x="136" y="1258"/></g><g id="n24-3"><use href="#NL" x="188" y="1258"/></g><g id="n24-4"><use href="#LL" x="240" y="1258"/></g><g id="n24-5"><use href="#CL" x="292" y="1258"/></g><g id="n24-6"><use href="#LL" x="344" y="1258"/></g><g id="n24-7"><use href="#NL" x="396" y="1258"/></g><g id="n24-8"><use href="#NL" x="448" y="1258"/></g><g id="n24-9"><use href="#ML" x="500" y="1258"/></g>
<g id="n25-1"><use href="#MR" x="84" y="1310"/></g><g id="n25-2"><use href="#WR" x="136" y="1310"/></g><g id="n25-3"><use href="#WR" x="188" y="1310"/></g><g id="n25-4"><use href="#NR" x="240" y="1310"/></g><g id="n25-5"><use href="#LR" x="292" y="1310"/></g><g id="n25-6"><use href="#NR" x="344" y="1310"/></g><g id="n25-7"><use href="#WR" x="396" y="1310"/></g><g id="n25-8"><use href="#WR" x="448" y="1310"/></g><g id="n25-9"><use href="#MR" x="500" y="1310"/></g>
<g id="n26-1"><use href="#ML" x="84" y="1362"/></g><g id="n26-2"><use href="#CL" x="136" y="1362"/></g><g id="n26-3"><use href="#WL" x="188" y="1362"/></g><g id="n26-4"><use href="#NL" x="240" y="1362"/></g><g id="n26-5"><use href="#NL" x="292" y="1362"/></g><g id="n26-6"><use href="#NL" x="344" y="1362"/></g><g id="n26-7"><use href="#WL" x="396" y="1362"/></g><g id="n26-8"><use href="#CL" x="448" y="1362"/></g><g id="n26-9"><use href="#ML" x="500" y="1362"/></g>
<g id="n27-1"><use href="#MR" x="84" y="1414"/></g><g id="n27-2"><use href="#MR" x="136" y="1414"/></g><g id="n27-3"><use href="#MR" x="188" y="1414"/></g><g id="n27-4"><use href="#MR" x="240" y="1414"/></g><g id="n27-5"><use href="#MR" x="292" y="1414"/></g><g id="n27-6"><use href="#MR" x="344" y="1414"/></g><g id="n27-7"><use href="#MR" x="396" y="1414"/></g><g id="n27-8"><use href="#MR" x="448" y="1414"/></g><g id="n27-9"><use href="#MR" x="500" y="1414"/></g>
<g id="n28-1"><use href="#CL" x="84" y="1466"/></g><g id="n28-2"><use href="#CL" x="136" y="1466"/></g><g id="n28-3"><use href="#CL" x="188" y="1466"/></g><g id="n28-4"><use href="#CL" x="240" y="1466"/></g><g id="n28-5"><use href="#CL" x="292" y="1466"/></g><g id="n28-6"><use href="#CL" x="344" y="1466"/></g><g id="n28-7"><use href="#CL" x="396" y="1466"/></g><g id="n28-8"><use href="#CL" x="448" y="1466"/></g><g id="n28-9"><use href="#CL" x="500" y="1466"/></g>
<g id="n29-1"><use href="#CR" x="84" y="1518"/></g><g id="n29-2"><use href="#LR" x="136" y="1518"/></g><g id="n29-3"><use href="#WR" x="188" y="1518"/></g><g id="n29-4"><use href="#NR" x="240" y="1518"/></g><g id="n29-5"><use href="#MR" x="292" y="1518"/></g><g id="n29-6"><use href="#NR" x="344" y="1518"/></g><g id="n29-7"><use href="#WR" x="396" y="1518"/></g><g id="n29-8"><use href="#LR" x="448" y="1518"/></g><g id="n29-9"><use href="#CR" x="500" y="1518"/></g>
<g id="n30-1"><use href="#CL" x="84" y="1570"/></g><g id="n30-2"><use href="#WL" x="136" y="1570"/></g><g id="n30-3"><use href="#NL" x="188" y="1570"/></g><g id="n30-4"><use href="#ML" x="240" y="1570"/></g><g id="n30-5"><use href="#WL" x="292" y="1570"/></g><g id="n30-6"><use href="#ML" x="344" y="1570"/></g><g id="n30-7"><use href="#NL" x="396" y="1570"/></g><g id="n30-8"><use href="#WL" x="448" y="1570"/></g><g id="n30-9"><use href="#CL" x="500" y="1570"/></g>
<g id="n31-1"><use href="#CR" x="84" y="1622"/></g><g id="n31-2"><use href="#NR" x="136" y="1622"/></g><g id="n31-3"><use href="#MR" x="188" y="1622"/></g><g id="n31-4"><use href="#MR" x="240" y="1622"/></g><g id="n31-5"><use href="#LR" x="292" y="1622"/></g><g id="n31-6"><use href="#MR" x="344" y="1622"/></g><g id="n31-7"><use href="#MR" x="396" y="1622"/></g><g id="n31-8"><use href="#NR" x="448" y="1622"/></g><g id="n31-9"><use href="#CR" x="500" y="1622"/></g>
<g id="n32-1"><use href="#CL" x="84" y="1674"/></g><g id="n32-2"><use href="#ML" x="136" y="1674"/></g><g id="n32-3"><use href="#WL" x="188" y="1674"/></g><g id="n32-4"><use href="#LL" x="240" y="1674"/></g><g id="n32-5"><use href="#NL" x="292" y="1674"/></g><g id="n32-6"><use href="#LL" x="344" y="1674"/></g><g id="n32-7"><use href="#WL" x="396" y="1674"/></g><g id="n32-8"><use href="#ML" x="448" y="1674"/></g><g id="n32-9"><use href="#CL" x="500" y="1674"/></g>
<g id="n33-1"><use href="#CR" x="84" y="1726"/></g><g id="n33-2"><use href="#NR" x="136" y="1726"/></g><g id="n33-3"><use href="#MR" x="188" y="1726"/></g><g id="n33-4"><use href="#MR" x="240" y="1726"/></g><g id="n33-5"><use href="#LR" x="292" y="1726"/></g><g id="n33-6"><use href="#MR" x="344" y="1726"/></g><g id="n33-7"><use href="#MR" x="396" y="1726"/></g><g id="n33-8"><use href="#NR" x="448" y="1726"/></g><g id="n33-9"><use href="#CR" x="500" y="1726"/></g>
<g id="n34-1"><use href="#CL" x="84" y="1778"/></g><g id="n34-2"><use href="#WL" x="136" y="1778"/></g><g id="n34-3"><use href="#NL" x="188" y="1778"/></g><g id="n34-4"><use href="#ML" x="240" y="1778"/></g><g id="n34-5"><use href="#WL" x="292" y="1778"/></g><g id="n34-6"><use href="#ML" x="344" y="1778"/></g><g id="n34-7"><use href="#NL" x="396" y="1778"/></g><g id="n34-8"><use href="#WL" x="448" y="1778"/></g><g id="n34-9"><use href="#CL" x="500" y="1778"/></g>
<g id="n35-1"><use href="#CR" x="84" y="1830"/></g><g id="n35-2"><use href="#LR" x="136" y="1830"/></g><g id="n35-3"><use href="#WR" x="188" y="1830"/></g><g id="n35-4"><use href="#NR" x="240" y="1830"/></g><g id="n35-5"><use href="#MR" x="292" y="1830"/></g><g id="n35-6"><use href="#NR" x="344" y="1830"/></g><g id="n35-7"><use href="#WR" x="396" y="1830"/></g><g id="n35-8"><use href="#LR" x="448" y="1830"/></g><g id="n35-9"><use href="#CR" x="500" y="1830"/></g>
<g id="n36-1"><use href="#CL" x="84" y="1882"/></g><g id="n36-2"><use href="#CL" x="136" y="1882"/></g><g id="n36-3"><use href="#CL" x="188" y="1882"/></g><g id="n36-4"><use href="#CL" x="240" y="1882"/></g><g id="n36-5"><use href="#CL" x="292" y="1882"/></g><g id="n36-6"><use href="#CL" x="344" y="1882"/></g><g id="n36-7"><use href="#CL" x="396" y="1882"/></g><g id="n36-8"><use href="#CL" x="448" y="1882"/></g><g id="n36-9"><use href="#CL" x="500" y="1882"/></g>
</g>
<text x="292" y="977" text-anchor="middle" font-family="Liberation Sans, Arial, sans-serif" font-weight="bold" font-size="13.5" fill="#3a3a3a" stroke="#fff" stroke-width="2.5" paint-order="stroke">BRACELETBOOK.COM</text>
</svg>
